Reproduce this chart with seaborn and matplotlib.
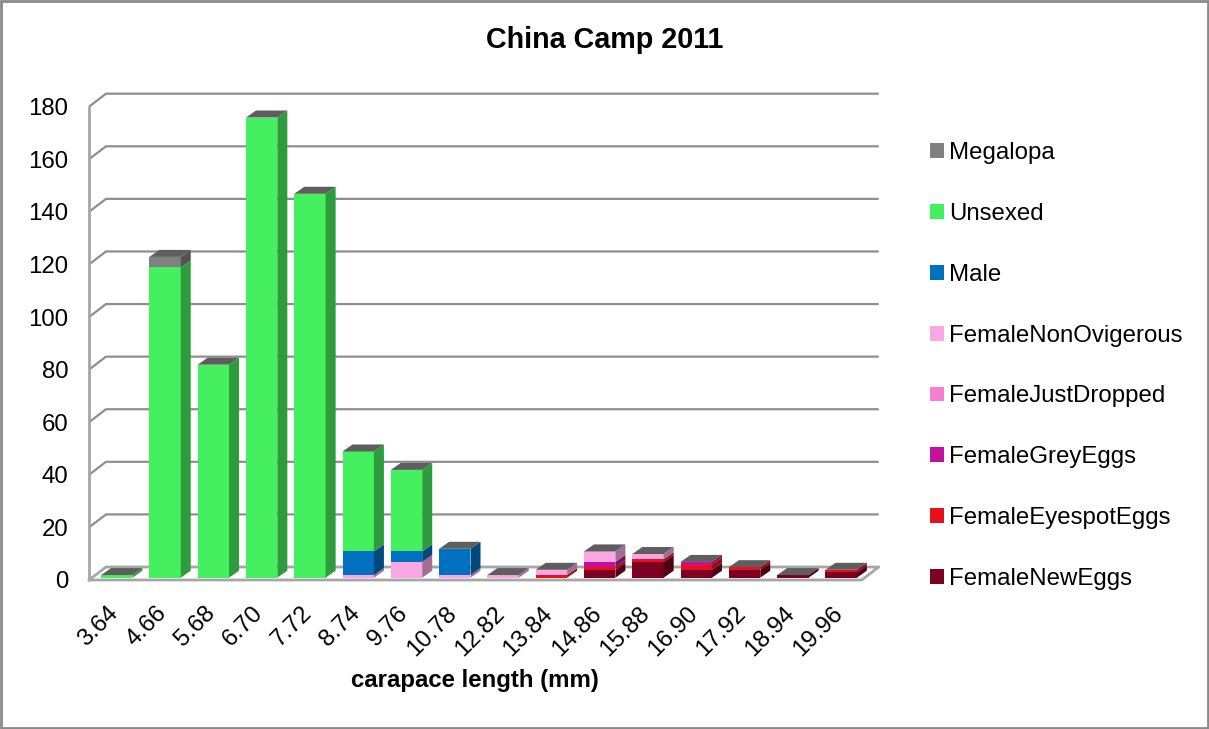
import matplotlib
matplotlib.use("Agg")
import matplotlib.pyplot as plt
from matplotlib.patches import Patch, Polygon, Rectangle
from matplotlib.transforms import ScaledTranslation
import numpy as np
import pandas as pd
import seaborn as sns

# ---- data: counts per carapace-length class ----
sizes = ["3.64", "4.66", "5.68", "6.70", "7.72", "8.74", "9.76", "10.78",
         "12.82", "13.84", "14.86", "15.88", "16.90", "17.92", "18.94", "19.96"]
megalopa            = [0, 4, 0, 0, 0, 0, 0, 0, 0, 0, 0, 0, 0, 0, 0, 0]
unsexed             = [1, 118, 81, 175, 146, 38, 31, 0, 0, 0, 0, 0, 0, 0, 0, 0]
male                = [0, 0, 0, 0, 0, 9, 4, 10, 0, 0, 0, 0, 0, 0, 0, 0]
female_non_ovig     = [0, 0, 0, 0, 0, 1, 6, 1, 1, 2, 4, 2, 0, 0, 0, 0]
female_just_dropped = [0, 0, 0, 0, 0, 0, 0, 0, 0, 0, 0, 0, 0, 0, 0, 0]
female_grey_eggs    = [0, 0, 0, 0, 0, 0, 0, 0, 0, 0, 2, 0, 1, 0, 0, 0]
female_eyespot_eggs = [0, 0, 0, 0, 0, 0, 0, 0, 0, 1, 1, 1, 2, 1, 0, 1]
female_new_eggs     = [0, 0, 0, 0, 0, 0, 0, 0, 0, 0, 3, 6, 3, 3, 1, 2]

# stacking order, bottom to top
series = [
    ("FemaleNewEggs", female_new_eggs, "#7B0021"),
    ("FemaleEyespotEggs", female_eyespot_eggs, "#E8101C"),
    ("FemaleGreyEggs", female_grey_eggs, "#C2119C"),
    ("FemaleJustDropped", female_just_dropped, "#F77FD2"),
    ("FemaleNonOvigerous", female_non_ovig, "#F9A8E2"),
    ("Male", male, "#0070C0"),
    ("Unsexed", unsexed, "#44F05E"),
    ("Megalopa", megalopa, "#808080"),
]

sns.set_style("white")
plt.rcParams["font.family"] = ["Liberation Sans", "DejaVu Sans"]
for k in ("text.color", "xtick.color", "ytick.color", "axes.labelcolor"):
    plt.rcParams[k] = "black"

FS = 17.3
W, H = 1209, 729
fig = plt.figure(figsize=(W / 100, H / 100), dpi=100)
# front plane of the pseudo-3D plot
ax_l, ax_b, ax_w, ax_h = 89, 580, 772.7, 473.3
ax = fig.add_axes([ax_l / W, (H - ax_b) / H, ax_w / W, ax_h / H])
ax.set_xlim(-0.5, len(sizes) - 0.5)
ax.set_ylim(0, 180)

px_x = ax_w / len(sizes)      # pixels per category
px_y = ax_h / 180.0           # pixels per count

# depth of the walls and of the bars (pixels -> data units)
wall_dx, wall_dy = 17 / px_x, 13 / px_y
bar_dx, bar_dy = 10 / px_x, 7 / px_y
off_x, off_y = 3.6 / px_x, 2.3 / px_y

grid_col = "#8E8E8E"
x0w, x1w = -0.5, len(sizes) - 0.5
for v in range(20, 181, 20):
    ax.plot([x0w, x0w + wall_dx, x1w + wall_dx], [v, v + wall_dy, v + wall_dy],
            color=grid_col, lw=1.6, clip_on=False, zorder=0.5, solid_capstyle="butt")
# floor
floor_col = "#A6A6A6"
ax.plot([x0w, x0w + wall_dx, x1w + wall_dx, x1w, x0w],
        [0, wall_dy, wall_dy, 0, 0], color=floor_col, lw=2, clip_on=False, zorder=0.5)
# left wall edge
ax.plot([x0w, x0w], [0, 180], color=floor_col, lw=2, clip_on=False, zorder=0.5)


def darker(c, f=0.65):
    r, g, b = matplotlib.colors.to_rgb(c)
    return (r * f, g * f, b * f)


df = pd.DataFrame({"size": sizes})
bottom = np.zeros(len(sizes))
for name, vals, col in series:
    vals = np.asarray(vals, dtype=float)
    df["value"] = vals
    n_before = len(ax.patches)
    sns.barplot(data=df, x="size", y="value", order=sizes, color=col,
                saturation=1, width=0.65, bottom=bottom, ax=ax, zorder=2,
                linewidth=0, err_kws={"linewidth": 0})
    for p in ax.patches[n_before:]:
        h = p.get_height()
        if h <= 0:
            p.set_visible(False)
            continue
        x0 = p.get_x() + off_x
        y0 = p.get_y() + off_y
        x1 = x0 + p.get_width()
        y1 = y0 + h
        p.set_x(x0)
        p.set_y(y0)
        # right-hand side face
        ax.add_patch(Polygon([(x1, y0), (x1 + bar_dx, y0 + bar_dy),
                              (x1 + bar_dx, y1 + bar_dy), (x1, y1)],
                             closed=True, facecolor=darker(col), edgecolor="none",
                             zorder=2, clip_on=False))
    bottom = bottom + vals

# grey top face on each stack
for p_x, tot in zip(range(len(sizes)), bottom):
    x0 = p_x - 0.325 + off_x
    x1 = x0 + 0.65
    y1 = tot + off_y
    ax.add_patch(Polygon([(x0, y1), (x1, y1), (x1 + bar_dx, y1 + bar_dy),
                          (x0 + bar_dx, y1 + bar_dy)], closed=True,
                         facecolor="#5E5E5E", edgecolor="none", zorder=2.1,
                         clip_on=False))

for s in ax.spines.values():
    s.set_visible(False)
ax.grid(False)
ax.set_yticks(range(0, 181, 20))
ax.tick_params(axis="y", length=0, pad=15, labelsize=FS)
ax.set_xticks(range(len(sizes)))
ax.set_xticklabels(sizes, rotation=45, ha="right", va="top",
                   rotation_mode="anchor", fontsize=FS)
ax.tick_params(axis="x", length=0, pad=16)
nudge = ScaledTranslation(-6 / 100, 0, fig.dpi_scale_trans)
for lbl in ax.get_xticklabels():
    lbl.set_transform(lbl.get_transform() + nudge)
ax.set_xlabel("")
ax.set_ylabel("")

fig.text(475 / W, 1 - 680 / H, "carapace length (mm)", ha="center", va="center",
         fontsize=FS, fontweight="bold")
fig.text(605 / W, 1 - 40 / H, "China Camp 2011", ha="center", va="center",
         fontsize=20.7, fontweight="bold")

handles = [Patch(facecolor=c, edgecolor="none", label=n) for n, _, c in series[::-1]]
fig.legend(handles=handles, loc="center left",
           bbox_to_anchor=(930 / W, (H - 366) / H), frameon=False,
           fontsize=FS, handlelength=0.58, handleheight=0.58,
           handletextpad=0.2, labelspacing=1.62, borderpad=0, borderaxespad=0)

fig.add_artist(Rectangle((0.001, 0.001), 0.998, 0.997, transform=fig.transFigure,
                         fill=False, edgecolor="#8A8A8A", lw=2))

fig.savefig("out.png", dpi=100)
